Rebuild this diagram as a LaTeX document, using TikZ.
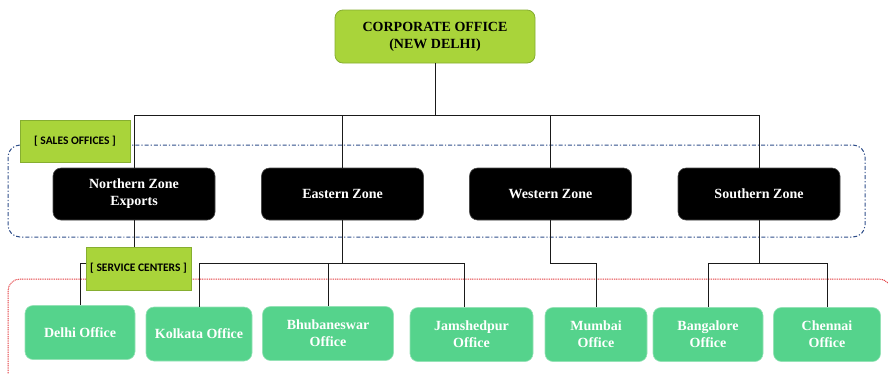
\documentclass[tikz,border=0pt]{standalone}
\usepackage{fontspec}
\setmainfont{Liberation Serif}
\newfontfamily\tagfont{Carlito}
\definecolor{OrgLime}{HTML}{A9D43A}
\definecolor{OrgLimeEdge}{HTML}{86AE30}
\definecolor{OrgMint}{HTML}{55D38C}
\definecolor{OrgMintEdge}{HTML}{95E2B6}
\definecolor{OrgZoneEdge}{HTML}{4A4A4A}
\definecolor{OrgSales}{HTML}{2F4E8A}
\definecolor{OrgService}{HTML}{E23A3E}
\definecolor{OrgWire}{HTML}{1A1A1A}

\begin{document}
\begin{tikzpicture}[x=1pt,y=-1pt,
    headbox/.style={draw=OrgLimeEdge,fill=OrgLime,rounded corners=8pt,line width=0.8pt,
      minimum width=200pt,minimum height=53pt,align=center,
      font=\fontsize{14}{17}\selectfont\bfseries},
    zonebox/.style={draw=OrgZoneEdge,fill=black,text=white,rounded corners=8pt,line width=0.6pt,
      minimum width=162pt,minimum height=52pt,align=center,
      font=\fontsize{14}{17}\selectfont\bfseries},
    officebox/.style={draw=OrgMintEdge,fill=OrgMint,text=white,rounded corners=8pt,line width=0.6pt,
      minimum height=54pt,align=center,
      font=\fontsize{14}{17}\selectfont\bfseries},
    tagbox/.style={draw=OrgLimeEdge,fill=OrgLime,line width=0.8pt,minimum height=42pt,
      font=\tagfont\bfseries\fontsize{11.5}{13}\selectfont},
    wire/.style={draw=OrgWire,line width=0.9pt}]
      \useasboundingbox (0,0) rectangle (888,373);

      % zone frames
      \draw[OrgSales,line width=1pt,rounded corners=12pt,
        dash pattern=on 4pt off 2pt on 1.2pt off 2pt] (8,145) rectangle (865,237);
      \begin{scope}
        \clip (0,0) rectangle (888,373);
        \draw[OrgService,line width=1pt,rounded corners=12pt,
          dash pattern=on 1pt off 0.8pt] (8,279) rectangle (891,410);
      \end{scope}

      % boxes
      \node[headbox] (corp) at (435,36.5) {CORPORATE OFFICE\\(NEW DELHI)};

      \node[zonebox] (north) at (134,194) {Northern Zone\\Exports};
      \node[zonebox] (east) at (342.5,194) {Eastern Zone};
      \node[zonebox] (west) at (550.5,194) {Western Zone};
      \node[zonebox] (south) at (759,194) {Southern Zone};

      \node[officebox,minimum width=110pt] (delhi) at (80,332.5) {Delhi Office};
      \node[officebox,minimum width=106pt] (kolkata) at (199,334) {Kolkata Office};
      \node[officebox,minimum width=131pt] (bhuban) at (328,333.5) {Bhubaneswar\\Office};
      \node[officebox,minimum width=123pt] (jamshed) at (471.5,334.5) {Jamshedpur\\Office};
      \node[officebox,minimum width=102pt] (mumbai) at (596,334.5) {Mumbai\\Office};
      \node[officebox,minimum width=110pt] (bangalore) at (708,334.5) {Bangalore\\Office};
      \node[officebox,minimum width=107pt] (chennai) at (827,334.5) {Chennai\\Office};

      % connectors
      \coordinate (bus) at (435,115);
      \draw[wire] (corp.south) -- (bus);
      \foreach \zone in {north,east,west,south}
        \draw[wire] (\zone.north) |- (bus);

      \draw[wire] (north.south) -- ++(0,43) -| (delhi.north);
      \draw[wire] (east.south) -- ++(0,43) coordinate (eastbus);
      \draw[wire] (kolkata.north) |- (eastbus);
      \draw[wire] (bhuban.north) |- (eastbus);
      \draw[wire] ([xshift=-7pt]jamshed.north) |- (eastbus);
      \draw[wire] (west.south) -- ++(0,43) -| (mumbai.north);
      \draw[wire] (south.south) -- ++(0,43) coordinate (southbus);
      \draw[wire] (bangalore.north) |- (southbus);
      \draw[wire] (chennai.north) |- (southbus);

      % tags
      \node[tagbox,minimum width=110pt] (salestag) at (75,141) {[ SALES OFFICES ]};
      \node[tagbox,minimum width=105pt,minimum height=43pt] (servicetag) at (138.5,268.5) {[ SERVICE CENTERS ]};
\end{tikzpicture}
\end{document}
